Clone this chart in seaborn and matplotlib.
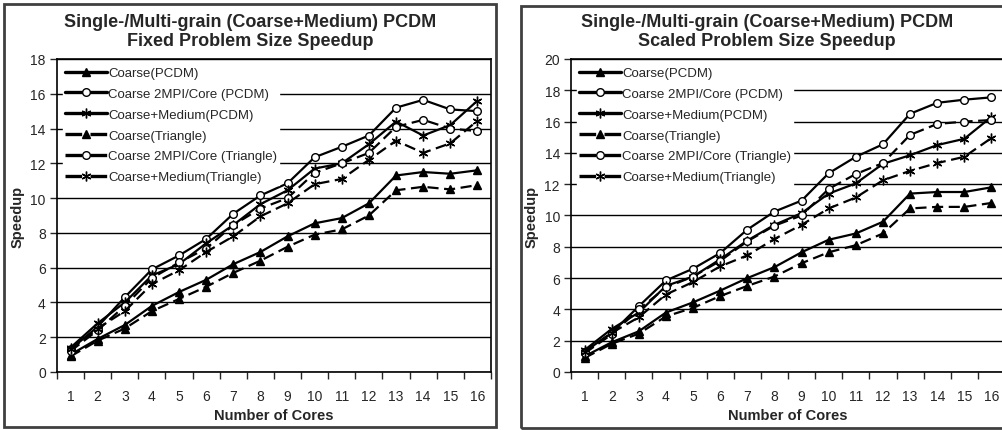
import numpy as np
import pandas as pd
import matplotlib
matplotlib.use("Agg")
import matplotlib.pyplot as plt
import seaborn as sns
from matplotlib.patches import Rectangle

sns.set_style("white")
plt.rcParams['font.family'] = ['Liberation Sans', 'DejaVu Sans']

cores = list(range(1, 17))

series_names = ["Coarse(PCDM)", "Coarse 2MPI/Core (PCDM)", "Coarse+Medium(PCDM)",
                "Coarse(Triangle)", "Coarse 2MPI/Core (Triangle)", "Coarse+Medium(Triangle)"]

# fixed problem size
coarse_pcdm_fixed = [1.0, 1.9, 2.7, 3.8, 4.6, 5.3, 6.2, 6.9, 7.8, 8.55, 8.85, 9.7, 11.3, 11.5, 11.4, 11.6]
coarse2_pcdm_fixed = [1.3, 2.6, 4.3, 5.9, 6.7, 7.65, 9.1, 10.15, 10.85, 12.35, 12.95, 13.6, 15.2, 15.65, 15.1, 15.0]
cm_pcdm_fixed = [1.4, 2.8, 4.0, 5.55, 6.2, 7.4, 8.45, 9.65, 10.45, 11.7, 12.0, 13.1, 14.4, 13.6, 14.2, 15.6]
coarse_tri_fixed = [0.9, 1.8, 2.5, 3.5, 4.2, 4.9, 5.7, 6.4, 7.2, 7.9, 8.2, 9.0, 10.45, 10.65, 10.5, 10.75]
coarse2_tri_fixed = [1.2, 2.4, 3.8, 5.4, 6.3, 7.1, 8.45, 9.4, 10.0, 11.45, 12.0, 12.6, 14.1, 14.5, 14.0, 13.85]
cm_tri_fixed = [1.3, 2.5, 3.5, 5.05, 5.85, 6.9, 7.8, 8.95, 9.7, 10.8, 11.1, 12.2, 13.3, 12.6, 13.15, 14.45]

# scaled problem size
coarse_pcdm_scaled = [1.0, 1.9, 2.6, 3.8, 4.45, 5.2, 6.0, 6.7, 7.65, 8.45, 8.85, 9.6, 11.4, 11.5, 11.5, 11.8]
coarse2_pcdm_scaled = [1.3, 2.5, 4.2, 5.85, 6.6, 7.6, 9.1, 10.25, 10.95, 12.7, 13.75, 14.55, 16.5, 17.2, 17.4, 17.55]
cm_pcdm_scaled = [1.4, 2.75, 3.8, 5.5, 6.1, 7.2, 8.4, 9.4, 10.15, 11.4, 12.05, 13.3, 13.85, 14.5, 14.9, 16.3]
coarse_tri_scaled = [0.9, 1.8, 2.45, 3.55, 4.1, 4.85, 5.5, 6.1, 6.95, 7.65, 8.1, 8.85, 10.45, 10.55, 10.55, 10.8]
coarse2_tri_scaled = [1.2, 2.4, 4.0, 5.4, 6.1, 7.1, 8.35, 9.35, 10.0, 11.7, 12.65, 13.35, 15.15, 15.85, 16.0, 16.1]
cm_tri_scaled = [1.3, 2.5, 3.5, 4.95, 5.75, 6.75, 7.45, 8.5, 9.4, 10.45, 11.15, 12.25, 12.85, 13.35, 13.75, 14.95]

fixed = [coarse_pcdm_fixed, coarse2_pcdm_fixed, cm_pcdm_fixed,
         coarse_tri_fixed, coarse2_tri_fixed, cm_tri_fixed]
scaled = [coarse_pcdm_scaled, coarse2_pcdm_scaled, cm_pcdm_scaled,
          coarse_tri_scaled, coarse2_tri_scaled, cm_tri_scaled]

star = (6, 2, 0)
styles = [
    dict(marker="^", mfc="black", ms=6, dashes=None),
    dict(marker="o", mfc="white", ms=5.5, dashes=None),
    dict(marker=star, mfc="black", ms=7, dashes=None),
    dict(marker="^", mfc="black", ms=6, dashes=(5, 2.5)),
    dict(marker="o", mfc="white", ms=5.5, dashes=(5, 2.5)),
    dict(marker=star, mfc="black", ms=7, dashes=(5, 2.5)),
]


def draw_panel(ax, data, ymax, title, title_x):
    for name, vals, st in zip(series_names, data, styles):
        df = pd.DataFrame({"cores": cores, "speedup": vals})
        sns.lineplot(data=df, x="cores", y="speedup", ax=ax, color="black",
                     lw=1.6, marker=st["marker"], markersize=st["ms"],
                     markerfacecolor=st["mfc"], markeredgecolor="black",
                     markeredgewidth=1.0, label=name)
        if st["dashes"] is not None:
            ax.lines[-1].set_dashes(st["dashes"])

    ax.set_xlim(0.5, 16.5)
    ax.set_ylim(0, ymax)
    ax.set_yticks(np.arange(0, ymax + 1, 2))
    ax.set_xticks(cores)
    ax.set_xticks(np.arange(0.5, 17, 1), minor=True)
    ax.tick_params(axis="x", which="major", length=0, pad=12, labelsize=10)
    ax.tick_params(axis="x", which="minor", length=5, width=1, direction="out", bottom=True)
    ax.tick_params(axis="y", length=5, width=1, direction="out", left=True, labelsize=10, pad=3)
    ax.yaxis.grid(True, color="black", lw=1)
    ax.set_axisbelow(True)
    for sp in ax.spines.values():
        sp.set_color("black")
        sp.set_linewidth(1.2)
    ax.set_xlabel("Number of Cores", fontsize=10.5, fontweight="bold", labelpad=4)
    ax.set_ylabel("Speedup", fontsize=10.5, fontweight="bold", labelpad=4)
    leg = ax.legend(loc="upper left", bbox_to_anchor=(0.0, 1.0), frameon=True,
                    fontsize=9.5, handlelength=3.2, handletextpad=0.1,
                    labelspacing=0.65, borderpad=0.15, borderaxespad=0.45, fancybox=False)
    leg.get_frame().set_edgecolor("white")
    leg.get_frame().set_facecolor("white")
    leg.get_frame().set_alpha(1)
    for h in leg.legend_handles:
        h.set_linewidth(2.4)
    fig.text(title_x, 0.968, title, ha="center", va="top", fontsize=13,
             fontweight="bold", linespacing=1.15)


fig = plt.figure(figsize=(10.03, 4.31), dpi=100)
ax1 = fig.add_axes([0.0568, 0.1346, 0.4327, 0.7262])
ax2 = fig.add_axes([0.5693, 0.1346, 0.4327, 0.7262])

draw_panel(ax1, fixed, 18, "Single-/Multi-grain (Coarse+Medium) PCDM\nFixed Problem Size Speedup", 250 / 1003)
draw_panel(ax2, scaled, 20, "Single-/Multi-grain (Coarse+Medium) PCDM\nScaled Problem Size Speedup", 767 / 1003)

# chart area borders
fig.patches.append(Rectangle((4 / 1003, 1 - 428 / 431), 492 / 1003, 423 / 431,
                             transform=fig.transFigure, fill=False, ec="#404040", lw=2))
fig.patches.append(Rectangle((521 / 1003, 1 - 429 / 431), 492 / 1003, 422 / 431,
                             transform=fig.transFigure, fill=False, ec="#404040", lw=2))

fig.savefig("out.png", dpi=100)
